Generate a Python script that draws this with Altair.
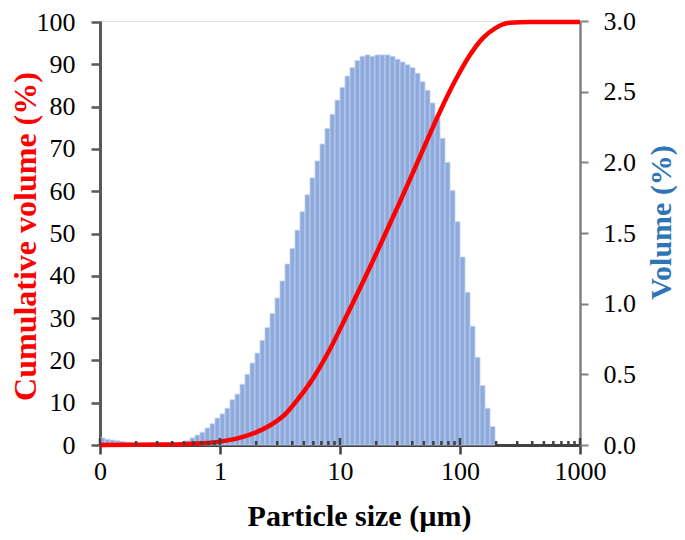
import altair as alt
import pandas as pd
import numpy as np

# ---- data ----
BINS_PER_DECADE = 24
FIRST_BIN = -24  # first size class starts at 0.1 um
volume = [
    0.05, 0.04, 0.035, 0.03, 0.025, 0.02, 0.015, 0.01,
    0.008, 0.005, 0.003, 0.0, 0.0, 0.0, 0.0, 0.005,
    0.01, 0.03, 0.05, 0.07, 0.09, 0.12, 0.15, 0.19,
    0.22, 0.26, 0.32, 0.36, 0.43, 0.50, 0.58, 0.65,
    0.74, 0.83, 0.93, 1.04, 1.16, 1.28, 1.39, 1.52,
    1.65, 1.77, 1.89, 2.01, 2.13, 2.24, 2.34, 2.44,
    2.53, 2.61, 2.67, 2.72, 2.75, 2.76, 2.75, 2.76,
    2.76, 2.76, 2.75, 2.73, 2.71, 2.69, 2.67, 2.63,
    2.57, 2.51, 2.42, 2.31, 2.17, 2.00, 1.80, 1.58,
    1.33, 1.08, 0.84, 0.62, 0.42, 0.26, 0.13,
]
cum_size = [0.1, 0.2, 0.3, 0.5, 0.7, 1.0, 1.5, 2.0, 2.6, 3.5, 4.6, 6.2, 8.3,
            11, 14.7, 21.5, 31.6, 46.4, 68, 91, 121, 155, 196, 260, 380, 1000]
cum_value = [0.0, 0.05, 0.1, 0.2, 0.4, 0.8, 1.8, 3.0, 4.6, 7.3, 11.3, 16.5, 22.8,
             29.8, 37.1, 47.1, 57.5, 68.2, 78.8, 86.1, 92.2, 96.2, 98.5, 99.8,
             100.0, 100.0]
x_major = [0.1, 1, 10, 100, 1000]
x_minor = [m * 10.0 ** e for e in range(-1, 3) for m in range(2, 10)]
left_ticks = list(range(0, 101, 10))
right_ticks = [0, 0.5, 1.0, 1.5, 2.0, 2.5, 3.0]

k = np.arange(FIRST_BIN, FIRST_BIN + len(volume))
bars = pd.DataFrame({
    "lo": 10.0 ** (k / BINS_PER_DECADE),
    "hi": 10.0 ** ((k + 1) / BINS_PER_DECADE),
    "vol": volume,
    "base": 0.0,
})
cum = pd.DataFrame({"size": cum_size, "cum": cum_value})
minor_df = pd.DataFrame({"t": x_minor})
major_df = pd.DataFrame({"t": x_major})

W, H = 480, 424
FONT = "Liberation Serif"

xscale = alt.Scale(type="log", domain=[0.1, 1000], nice=False)
xaxis = alt.Axis(
    values=x_major,
    labelExpr="datum.value < 0.5 ? '0' : format(datum.value, 'd')",
    title="Particle size (µm)",
    titleFont=FONT, titleFontSize=30, titleFontWeight="bold", titleColor="black",
    titleX=259, titleY=56, titleBaseline="top", titleAlign="center",
    labelFont=FONT, labelFontSize=26, labelColor="black", labelPadding=4,
    domainColor="#404040", domainWidth=3,
    tickColor="#404040", tickWidth=2.5, tickSize=9,
    grid=False, labelFlush=False,
)

bar_layer = alt.Chart(bars).mark_rect(
    color="#8FAADC", stroke="#C3D3EE", strokeWidth=0.8
).encode(
    x=alt.X("lo:Q", scale=xscale, axis=xaxis),
    x2="hi:Q",
    y=alt.Y("vol:Q", scale=alt.Scale(domain=[0, 3], nice=False),
            axis=alt.Axis(orient="right", values=right_ticks, format=".1f",
                          title="Volume (%)", titleAngle=270, titleBaseline="bottom",
                          titleAlign="center", titleX=96, titleY=201,
                          titleColor="#2E75B6", titleFont=FONT, titleFontSize=30,
                          titleFontWeight="bold",
                          labelFont=FONT, labelFontSize=26, labelColor="black",
                          labelPadding=15, domainColor="#808080", domainWidth=2.5,
                          tickColor="#808080", tickWidth=2, tickSize=8, grid=False)),
    y2="base:Q",
)

line_layer = alt.Chart(cum).mark_line(
    color="#FF0000", strokeWidth=4.5, interpolate="monotone"
).encode(
    x=alt.X("size:Q", scale=xscale, axis=xaxis),
    y=alt.Y("cum:Q", scale=alt.Scale(domain=[0, 100.24], nice=False),
            axis=alt.Axis(orient="left", values=left_ticks,
                          title="Cumulative volume (%)", titleColor="#FF0000",
                          titleFont=FONT, titleFontSize=32, titleFontWeight="bold",
                          titleAngle=270, titleBaseline="bottom", titleAlign="center",
                          titleX=-58, titleY=215,
                          labelFont=FONT, labelFontSize=26, labelColor="black",
                          labelPadding=16, domainColor="#595959", domainWidth=3,
                          tickColor="#595959", tickWidth=2.5, tickSize=9, grid=False)),
)

minor_layer = alt.Chart(minor_df).mark_rule(color="#404040", strokeWidth=2.5).encode(
    x=alt.X("t:Q", scale=xscale, axis=xaxis),
    y=alt.value(H - 4),
    y2=alt.value(H),
)
major_layer = alt.Chart(major_df).mark_rule(color="#404040", strokeWidth=2.5).encode(
    x=alt.X("t:Q", scale=xscale, axis=xaxis),
    y=alt.value(H - 7),
    y2=alt.value(H),
)

chart = alt.layer(bar_layer, line_layer, minor_layer, major_layer).resolve_scale(
    y="independent"
).properties(
    width=W, height=H,
    autosize=alt.AutoSizeParams(type="none"),
    padding={"left": 92, "top": 13, "right": 97, "bottom": 87},
).configure_view(
    stroke="#808080", strokeWidth=2
).configure(background="white")

chart.save("out.html", embed_options={"renderer": "svg", "actions": False})
